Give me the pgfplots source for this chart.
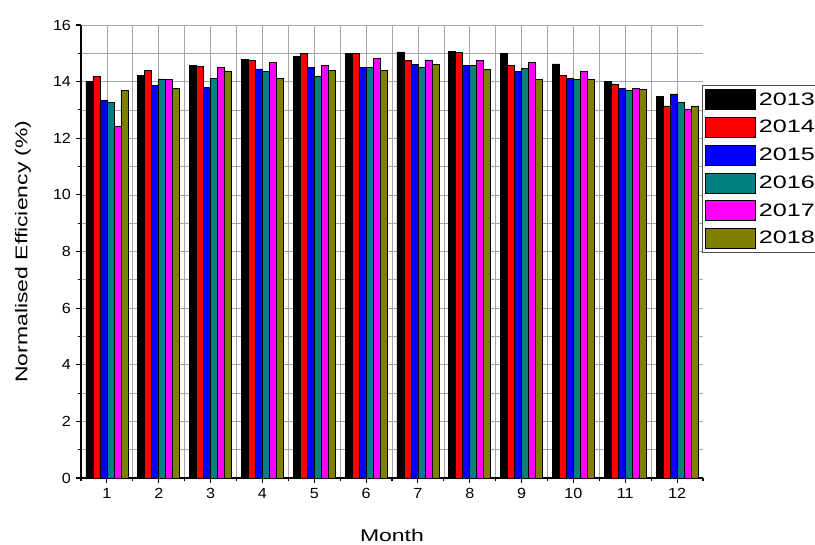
\documentclass[border=0pt]{standalone}
\usepackage{pgfplots}
\pgfplotsset{compat=1.18}
\usepackage{fontspec}
\setmainfont{Liberation Sans}[FakeStretch=1.1]
\newfontfamily\lblfont{Liberation Sans}[FakeStretch=1.35]
\newfontfamily\legfont{Liberation Sans}[FakeStretch=1.4]
\definecolor{cteal}{RGB}{0,128,128}
\definecolor{colive}{RGB}{128,128,0}
\definecolor{cmag}{RGB}{255,0,255}
\pgfplotsset{mylegend/.style={legend image code/.code={\draw[##1,draw=black,line width=0.6pt] (0pt,-7.5pt) rectangle (38pt,7.5pt);}}}
\begin{document}
\begin{tikzpicture}[x=1pt,y=1pt]
\useasboundingbox (-60.75pt,-50.25pt) rectangle (550.5pt,358.5pt);
\begin{axis}[
  at={(0pt,0pt)}, anchor=south west,
  scale only axis,
  width=466.5pt, height=339.75pt,
  xmin=0.5, xmax=12.5, ymin=0, ymax=16,
  axis x line*=bottom, axis y line*=left,
  ybar, bar width=0.135,
  xtick={1,...,12}, minor xtick={0.5,1.5,...,11.5},
  extra x ticks={12.5}, extra x tick labels={},
  extra x tick style={grid=none, major tick length=2.5pt},
  ytick={0,2,...,16}, minor ytick={1,3,...,15},
  grid=both,
  major grid style={gray!70, line width=0.5pt},
  minor grid style={gray!70, line width=0.5pt},
  tick align=outside,
  major tick length=4pt, minor tick length=2.5pt,
  tick style={black, line width=0.8pt},
  axis line style={black, line width=0.9pt},
  /pgf/number format/assume math mode=true,
  ticklabel style={font=\fontsize{11}{12}\selectfont},
  xlabel={Month}, ylabel={Normalised Efficiency (\%)},
  label style={font=\lblfont\fontsize{12.75}{15}\selectfont},
  xlabel style={at={(rel axis cs:0.5,-0.1258)}, anchor=center},
  ylabel style={at={(rel axis cs:-0.0932,0.5)}, anchor=center},
  legend style={at={(rel axis cs:0.998,0.8675)}, anchor=north west,
    font=\legfont\fontsize{13.5}{16}\selectfont, draw=black!70, line width=0.6pt,
    row sep=5.2pt, inner xsep=2pt, inner ysep=3pt,
    /tikz/every even column/.append style={column sep=6pt}},
  legend cell align=left,
]
\addplot[fill=black, draw=black, bar shift=-0.3375, mylegend] coordinates {(1,14.00) (2,14.21) (3,14.57) (4,14.79) (5,14.89) (6,15.01) (7,15.05) (8,15.08) (9,15.00) (10,14.63) (11,14.00) (12,13.48)};
\addplot[fill=red, draw=black, bar shift=-0.2025, mylegend] coordinates {(1,14.20) (2,14.39) (3,14.54) (4,14.77) (5,15.01) (6,15.01) (7,14.75) (8,15.02) (9,14.57) (10,14.21) (11,13.92) (12,13.14)};
\addplot[fill=blue, draw=black, bar shift=-0.0675, mylegend] coordinates {(1,13.35) (2,13.88) (3,13.79) (4,14.45) (5,14.49) (6,14.49) (7,14.61) (8,14.57) (9,14.37) (10,14.12) (11,13.76) (12,13.57)};
\addplot[fill=cteal, draw=black, bar shift=0.0675, mylegend] coordinates {(1,13.26) (2,14.10) (3,14.12) (4,14.36) (5,14.20) (6,14.50) (7,14.49) (8,14.58) (9,14.46) (10,14.07) (11,13.71) (12,13.27)};
\addplot[fill=cmag, draw=black, bar shift=0.2025, mylegend] coordinates {(1,12.42) (2,14.07) (3,14.51) (4,14.68) (5,14.57) (6,14.81) (7,14.77) (8,14.75) (9,14.68) (10,14.37) (11,13.75) (12,13.02)};
\addplot[fill=colive, draw=black, bar shift=0.3375, mylegend] coordinates {(1,13.68) (2,13.76) (3,14.38) (4,14.13) (5,14.39) (6,14.40) (7,14.62) (8,14.43) (9,14.07) (10,14.07) (11,13.73) (12,13.14)};
\legend{2013,2014,2015,2016,2017,2018}
\end{axis}
\end{tikzpicture}
\end{document}
